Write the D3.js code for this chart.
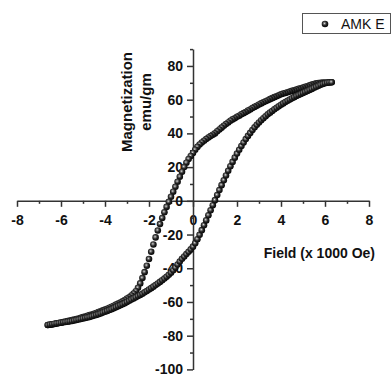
<!DOCTYPE html>
<html>
<head>
<meta charset="utf-8">
<script src="https://cdn.jsdelivr.net/npm/d3@7"></script>
<style>
  html, body { margin: 0; padding: 0; background: #fff; }
  svg { display: block; }
</style>
</head>
<body>
<svg id="chart" width="391" height="377"></svg>
<script>
// Descending field branch (x 1000 Oe) and magnetization (emu/gm)
const fieldDown = [
  6.3, 6.2, 6.1, 6.0, 5.9, 5.8, 5.7, 5.6, 5.5, 5.4, 5.3, 5.2, 5.1, 5.0,
  4.9, 4.8, 4.7, 4.6, 4.5, 4.4, 4.3, 4.2, 4.1, 4.0, 3.9, 3.8, 3.7, 3.6,
  3.5, 3.4, 3.3, 3.2, 3.1, 3.0, 2.9, 2.8, 2.7, 2.6, 2.5, 2.4, 2.3, 2.2,
  2.1, 2.0, 1.9, 1.8, 1.7, 1.6, 1.5, 1.4, 1.3, 1.2, 1.1, 1.0, 0.9, 0.8,
  0.7, 0.6, 0.5, 0.4, 0.3, 0.2, 0.1, 0.0, -0.1, -0.2, -0.3, -0.4, -0.5,
  -0.6, -0.7, -0.8, -0.9, -1.0, -1.1, -1.2, -1.3, -1.4, -1.5, -1.6, -1.7,
  -1.8, -1.9, -2.0, -2.1, -2.2, -2.3, -2.4, -2.5, -2.6, -2.7, -2.8, -2.9,
  -3.0, -3.1, -3.2, -3.3, -3.4, -3.5, -3.6, -3.7, -3.8, -3.9, -4.0, -4.1,
  -4.2, -4.3, -4.4, -4.5, -4.6, -4.7, -4.8, -4.9, -5.0, -5.1, -5.2, -5.3,
  -5.4, -5.5, -5.6, -5.7, -5.8, -5.9, -6.0, -6.1, -6.2, -6.3, -6.4, -6.5, -6.6
];
const magDown = [
  70.3, 70.3, 70.2, 70.2, 70.1, 70.0, 69.9, 69.7, 69.3, 68.9, 68.5, 68.0, 67.6, 67.2,
  66.8, 66.4, 66.0, 65.6, 65.2, 64.8, 64.4, 64.0, 63.6, 63.2, 62.6, 62.0, 61.5, 60.9,
  60.3, 59.7, 59.1, 58.5, 57.8, 57.1, 56.4, 55.7, 55.0, 54.2, 53.5, 52.7, 52.0, 51.3,
  50.5, 49.8, 49.0, 48.3, 47.5, 46.5, 45.5, 44.5, 43.4, 42.3, 41.2, 40.0, 39.2, 38.4,
  37.5, 36.6, 35.6, 34.6, 33.4, 32.0, 30.3, 28.4, 26.6, 24.8, 22.6, 20.0, 17.2,
  14.3, 11.3, 8.3, 5.4, 2.4, -0.6, -3.6, -6.8, -10.2, -13.8, -17.6, -21.7,
  -25.9, -30.2, -34.5, -38.5, -42.3, -45.8, -49.0, -51.6, -53.6, -55.0, -56.2, -57.2,
  -58.0, -58.8, -59.6, -60.3, -61.0, -61.6, -62.2, -62.8, -63.4, -64.0, -64.5, -65.0,
  -65.5, -66.0, -66.5, -67.0, -67.4, -67.8, -68.2, -68.6, -69.0, -69.4, -69.8, -70.1,
  -70.4, -70.7, -71.0, -71.3, -71.6, -71.9, -72.2, -72.5, -72.8, -73.1, -73.3, -73.5, -73.7
];

// Ascending field branch
const fieldUp = [
  -6.6, -6.5, -6.4, -6.3, -6.2, -6.1, -6.0, -5.9, -5.8, -5.7, -5.6, -5.5, -5.4,
  -5.3, -5.2, -5.1, -5.0, -4.9, -4.8, -4.7, -4.6, -4.5, -4.4, -4.3, -4.2, -4.1,
  -4.0, -3.9, -3.8, -3.7, -3.6, -3.5, -3.4, -3.3, -3.2, -3.1, -3.0, -2.9, -2.8,
  -2.7, -2.6, -2.5, -2.4, -2.3, -2.2, -2.1, -2.0, -1.9, -1.8, -1.7, -1.6, -1.5,
  -1.4, -1.3, -1.2, -1.1, -1.0, -0.9, -0.8, -0.7, -0.6, -0.5, -0.4, -0.3, -0.2,
  -0.1, 0.0, 0.1, 0.2, 0.3, 0.4, 0.5, 0.6, 0.7, 0.8, 0.9, 1.0, 1.1, 1.2, 1.3,
  1.4, 1.5, 1.6, 1.7, 1.8, 1.9, 2.0, 2.1, 2.2, 2.3, 2.4, 2.5, 2.6, 2.7, 2.8,
  2.9, 3.0, 3.1, 3.2, 3.3, 3.4, 3.5, 3.6, 3.7, 3.8, 3.9, 4.0, 4.1, 4.2, 4.3,
  4.4, 4.5, 4.6, 4.7, 4.8, 4.9, 5.0, 5.1, 5.2, 5.3, 5.4, 5.5, 5.6, 5.7, 5.8,
  5.9, 6.0, 6.1, 6.2, 6.3
];
const magUp = [
  -73.7, -73.4, -73.2, -72.9, -72.7, -72.5, -72.3, -72.1, -71.9, -71.7, -71.5, -71.3, -71.0,
  -70.7, -70.4, -70.1, -69.8, -69.5, -69.2, -68.9, -68.5, -68.1, -67.7, -67.3, -66.8, -66.3,
  -65.8, -65.3, -64.8, -64.3, -63.7, -63.1, -62.5, -61.9, -61.3, -60.7, -60.0, -59.3, -58.6,
  -57.9, -57.2, -56.5, -55.8, -55.1, -54.3, -53.5, -52.6, -51.8, -50.9, -50.0, -49.1, -48.1,
  -47.1, -46.1, -45.0, -43.9, -42.6, -41.2, -39.6, -37.8, -36.0, -34.4, -33.0, -31.6, -30.2,
  -28.8, -27.2, -25.2, -22.8, -20.2, -17.4, -14.5, -11.6, -8.6, -5.6, -2.6, 0.4, 3.4, 6.4, 9.3,
  12.2, 15.0, 17.8, 20.5, 23.1, 25.6, 28.0, 30.3, 32.5, 34.6, 36.6, 38.5, 40.3, 42.0, 43.6,
  45.1, 46.5, 47.8, 49.0, 50.2, 51.3, 52.3, 53.3, 54.3, 55.2, 56.1, 57.0, 57.8, 58.6, 59.4,
  60.1, 60.8, 61.5, 62.2, 62.8, 63.4, 64.0, 64.6, 65.2, 65.8, 66.4, 67.0, 67.6, 68.2, 68.8,
  69.3, 69.7, 70.0, 70.2, 70.3
];

const xMajor = [-8, -6, -4, -2, 0, 2, 4, 6, 8];
const xMinor = [-7, -5, -3, -1, 1, 3, 5, 7];
const yMajor = [-100, -80, -60, -40, -20, 0, 20, 40, 60, 80];
const yMinor = [-90, -70, -50, -30, -10, 10, 30, 50, 70, 90];
const seriesName = "AMK E";

const font = "'Liberation Sans', Arial, sans-serif";
const axisColor = "#333";

const svg = d3.select("#chart").style("font-family", font);

const x = d3.scaleLinear().domain([-8, 8]).range([17, 369]);
const y = d3.scaleLinear().domain([-100, 90]).range([369.4, 49.1]);

// Sphere-like marker
const defs = svg.append("defs");
const grad = defs.append("radialGradient")
  .attr("id", "ball")
  .attr("cx", "42%").attr("cy", "40%").attr("r", "60%");
grad.append("stop").attr("offset", "0%").attr("stop-color", "#e6e6e6");
grad.append("stop").attr("offset", "22%").attr("stop-color", "#808080");
grad.append("stop").attr("offset", "55%").attr("stop-color", "#262626");
grad.append("stop").attr("offset", "100%").attr("stop-color", "#050505");

// --- Axes ---
const x0 = y(0), y0 = x(0);

const gx = svg.append("g").attr("transform", `translate(0,${x0})`);
gx.call(d3.axisBottom(x).tickValues(xMinor).tickSize(3).tickSizeOuter(0).tickFormat(""));
gx.call(g => g.select(".domain").remove());
const gx2 = svg.append("g").attr("transform", `translate(0,${x0})`);
gx2.call(d3.axisBottom(x).tickValues(xMajor).tickSize(6).tickSizeOuter(0).tickPadding(8)
  .tickFormat(d3.format("d")));

const gy = svg.append("g").attr("transform", `translate(${y0},0)`);
gy.call(d3.axisLeft(y).tickValues(yMinor).tickSize(3).tickSizeOuter(0).tickFormat(""));
gy.call(g => g.select(".domain").remove());
const gy2 = svg.append("g").attr("transform", `translate(${y0},0)`);
gy2.call(d3.axisLeft(y).tickValues(yMajor).tickSize(6).tickSizeOuter(0).tickPadding(4)
  .tickFormat(d3.format("d")));

svg.selectAll(".domain, .tick line")
  .attr("stroke", axisColor)
  .attr("stroke-width", 1.5);
svg.selectAll(".tick text")
  .attr("font-family", font)
  .attr("font-size", 14)
  .attr("font-weight", "bold")
  .attr("fill", "#111")
  .text(function () { return this.textContent.replace("\u2212", "-"); });

// Axis titles
svg.append("text")
  .attr("x", 375).attr("y", 258)
  .attr("text-anchor", "end")
  .attr("font-size", 14).attr("font-weight", "bold").attr("fill", "#111")
  .text("Field (x 1000 Oe)");

svg.append("text")
  .attr("transform", "translate(132,102) rotate(-90)")
  .attr("text-anchor", "middle")
  .attr("font-size", 15).attr("font-weight", "bold").attr("fill", "#111")
  .text("Magnetization");
svg.append("text")
  .attr("transform", "translate(151,102) rotate(-90)")
  .attr("text-anchor", "middle")
  .attr("font-size", 15).attr("font-weight", "bold").attr("fill", "#111")
  .text("emu/gm");

// --- Data ---
const down = fieldDown.map((h, i) => ({ h, m: magDown[i] }));
const up = fieldUp.map((h, i) => ({ h, m: magUp[i] }));

svg.append("g")
  .selectAll("circle")
  .data(down.concat(up))
  .join("circle")
  .attr("cx", d => x(d.h))
  .attr("cy", d => y(d.m))
  .attr("r", 3.3)
  .attr("fill", "url(#ball)");

// --- Legend ---
const lg = svg.append("g");
lg.append("rect")
  .attr("x", 302.5).attr("y", 13.5).attr("width", 88).attr("height", 20)
  .attr("fill", "#fff").attr("stroke", "#555").attr("stroke-width", 1);
lg.append("circle")
  .attr("cx", 325).attr("cy", 24).attr("r", 3.3).attr("fill", "url(#ball)");
lg.append("text")
  .attr("x", 341).attr("y", 28.5)
  .attr("font-size", 14).attr("fill", "#111")
  .text(seriesName);
</script>
</body>
</html>
